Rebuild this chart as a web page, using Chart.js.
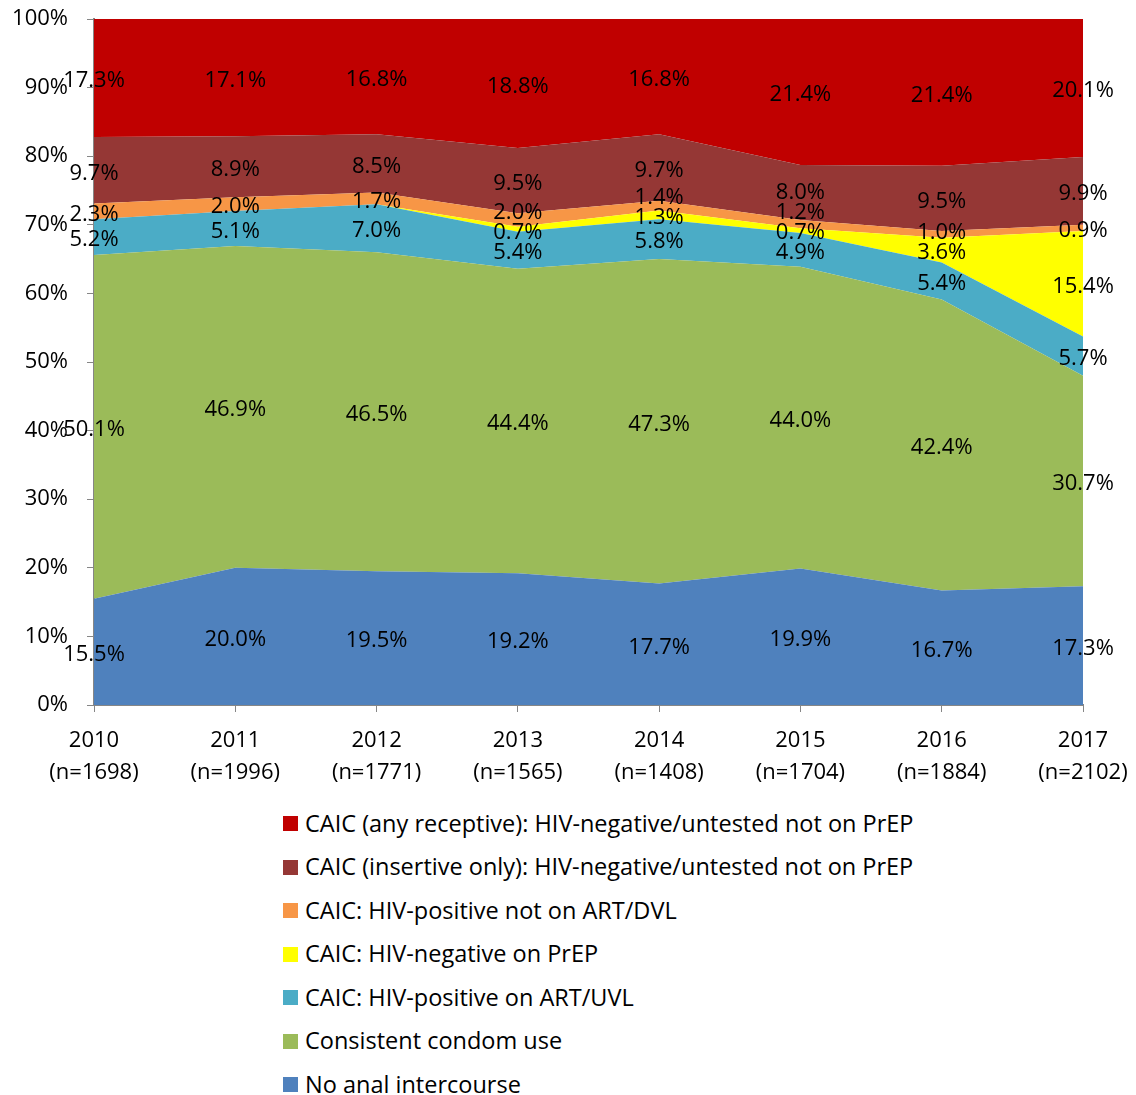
<!DOCTYPE html>
<html>
<head>
<meta charset="utf-8">
<script src="https://cdn.jsdelivr.net/npm/chart.js@4"></script>
<style>
  body { margin: 0; background: #fff; font-family: "Open Sans", sans-serif; overflow: hidden; }
  #wrap { position: relative; width: 1136px; height: 1095px; }
  #legend { position: absolute; left: 283px; top: 801px; }
  .item { height: 43.5px; display: flex; align-items: center; font-size: 23.5px; line-height: 36px; color: #000; }
  .box { width: 15px; height: 15px; margin-right: 7px; margin-top: 2px; }
</style>
</head>
<body>
<div id="wrap">
  <canvas id="myChart" width="1136" height="800"></canvas>
  <div id="legend"></div>
</div>
<script>
var years = [['2010', '(n=1698)'], ['2011', '(n=1996)'], ['2012', '(n=1771)'], ['2013', '(n=1565)'],
             ['2014', '(n=1408)'], ['2015', '(n=1704)'], ['2016', '(n=1884)'], ['2017', '(n=2102)']];

// bottom of the stack first
var noAnal      = [15.5, 20.0, 19.5, 19.2, 17.7, 19.9, 16.7, 17.3];
var condomUse   = [50.1, 46.9, 46.5, 44.4, 47.3, 44.0, 42.4, 30.7];
var posUVL      = [5.2, 5.1, 7.0, 5.4, 5.8, 4.9, 5.4, 5.7];
var negPrEP     = [0, 0, 0, 0.7, 1.3, 0.7, 3.6, 15.4];
var posDVL      = [2.3, 2.0, 1.7, 2.0, 1.4, 1.2, 1.0, 0.9];
var insertive   = [9.7, 8.9, 8.5, 9.5, 9.7, 8.0, 9.5, 9.9];
var receptive   = [17.3, 17.1, 16.8, 18.8, 16.8, 21.4, 21.4, 20.1];

var seriesNames = [
    'No anal intercourse',
    'Consistent condom use',
    'CAIC: HIV-positive on ART/UVL',
    'CAIC: HIV-negative on PrEP',
    'CAIC: HIV-positive not on ART/DVL',
    'CAIC (insertive only): HIV-negative/untested not on PrEP',
    'CAIC (any receptive): HIV-negative/untested not on PrEP'
];
var seriesData = [noAnal, condomUse, posUVL, negPrEP, posDVL, insertive, receptive];
var colors = ['#4F81BD', '#9BBB59', '#4BACC6', '#FFFF00', '#F79646', '#953735', '#C00000'];

var datasets = seriesData.map(function(d, i) {
    return {
        label: seriesNames[i],
        data: d,
        backgroundColor: colors[i],
        borderWidth: 0,
        pointRadius: 0,
        tension: 0,
        fill: i === 0 ? 'origin' : '-1'
    };
});

var FONT = '"Open Sans", sans-serif';

// value labels in the middle of each band; thin bands get pushed up so labels don't sit on each other
var bandLabels = {
    id: 'bandLabels',
    afterDatasetsDraw: function(chart) {
        var ctx = chart.ctx;
        var xs = chart.scales.x, ys = chart.scales.y;
        var minGap = 20;
        ctx.save();
        ctx.font = '22px ' + FONT;
        ctx.fillStyle = '#000';
        ctx.textAlign = 'center';
        ctx.textBaseline = 'middle';
        for (var j = 0; j < years.length; j++) {
            var base = 0;
            var prevY = null;
            for (var i = 0; i < seriesData.length; i++) {
                var v = seriesData[i][j];
                if (v > 0) {
                    var y = ys.getPixelForValue(base + v / 2) + 3;
                    if (prevY !== null && prevY - y < minGap) y = prevY - minGap;
                    ctx.fillText(v.toFixed(1) + '%', xs.getPixelForValue(j), y);
                    prevY = y;
                }
                base += v;
            }
        }
        ctx.restore();
    }
};

var ctx = document.getElementById('myChart').getContext('2d');
var myChart = new Chart(ctx, {
    type: 'line',
    data: { labels: years, datasets: datasets },
    plugins: [bandLabels],
    options: {
        responsive: false,
        animation: false,
        layout: { padding: { top: 19, right: 53, left: 0, bottom: 0 } },
        plugins: { legend: { display: false }, tooltip: { enabled: false } },
        scales: {
            x: {
                offset: false,
                grid: { drawOnChartArea: false, drawTicks: true, tickLength: 7, color: '#868686' },
                border: { color: '#868686', width: 2 },
                ticks: { color: '#000', font: { family: FONT, size: 22, lineHeight: 1.45 }, padding: 13, maxRotation: 0, autoSkip: false },
                afterFit: function(scale) {
                    scale.height = 95;
                    scale.paddingLeft = 0;
                    scale.paddingRight = 0;
                }
            },
            y: {
                stacked: true,
                min: 0,
                max: 100,
                grid: { drawOnChartArea: false, drawTicks: true, tickLength: 7, color: '#868686' },
                border: { color: '#868686', width: 2 },
                ticks: {
                    stepSize: 10,
                    color: '#000',
                    padding: 19,
                    font: { family: FONT, size: 22 },
                    callback: function(v) { return v + '%'; }
                },
                afterFit: function(scale) {
                    scale.width = 94;
                    scale.paddingTop = 0;
                    scale.paddingBottom = 0;
                }
            }
        }
    }
});

// legend, top of the stack first
var legend = document.getElementById('legend');
for (var i = seriesNames.length - 1; i >= 0; i--) {
    var row = document.createElement('div');
    row.className = 'item';
    row.innerHTML = '<span class="box" style="background:' + colors[i] + '"></span><span>' + seriesNames[i] + '</span>';
    legend.appendChild(row);
}
</script>
</body>
</html>
